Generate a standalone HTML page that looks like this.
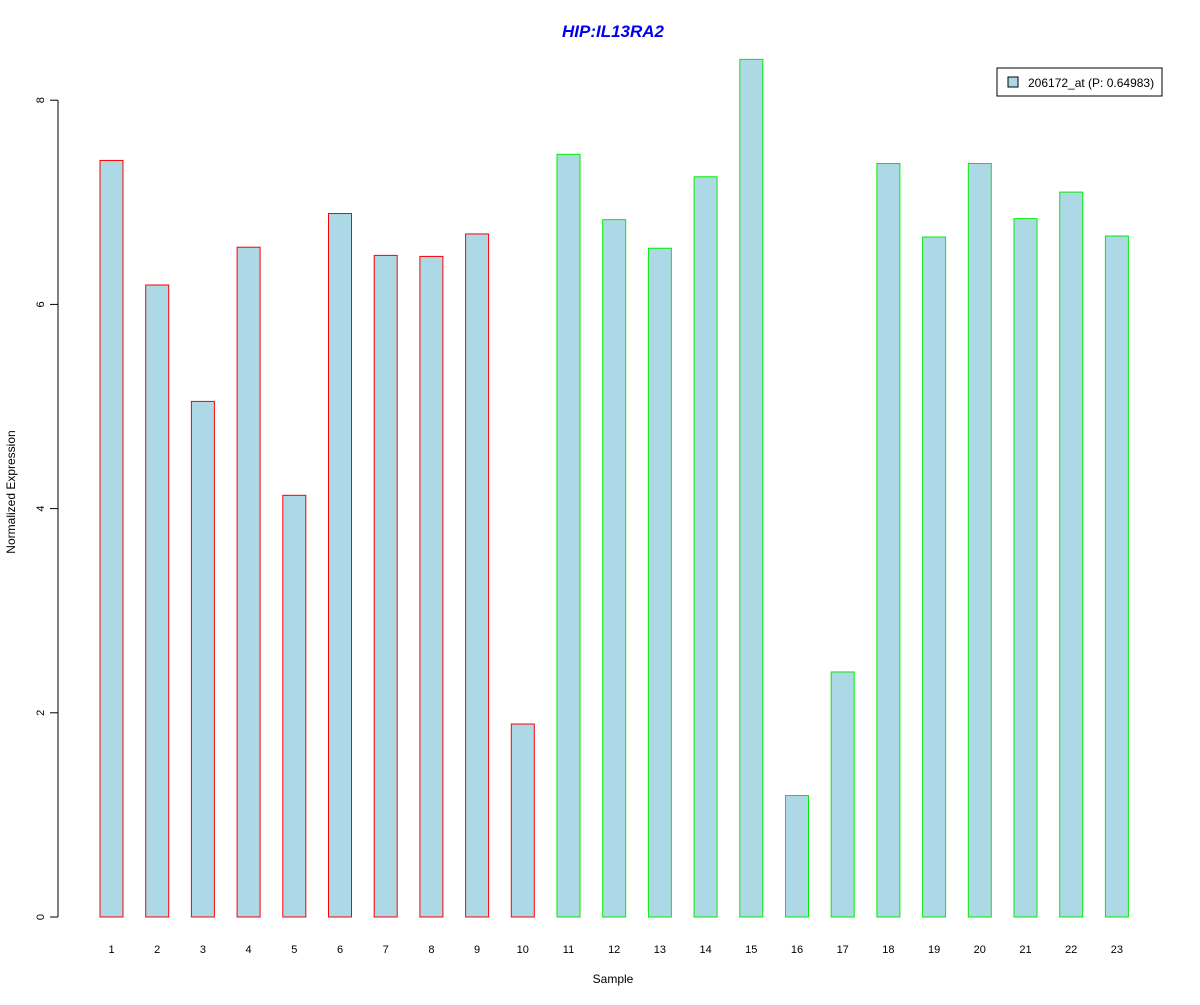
<!DOCTYPE html>
<html><head><meta charset="utf-8"><style>
html,body{margin:0;padding:0;background:#fff;}
svg text{font-family:"Liberation Sans",Arial,sans-serif;}
</style></head><body>
<svg id="chart" width="1200" height="1000" xmlns="http://www.w3.org/2000/svg">
<rect x="0" y="0" width="1200" height="1000" fill="#fff"/>
<text x="613" y="37" text-anchor="middle" font-size="17" font-weight="bold" font-style="italic" fill="#0000ee">HIP:IL13RA2</text>
<text x="613" y="983" text-anchor="middle" font-size="12">Sample</text>
<text transform="translate(15,492) rotate(-90)" text-anchor="middle" font-size="12">Normalized Expression</text>
<g id="yaxis"></g>
<g id="bars"></g>
<g id="xlabels"></g>
<g>
<rect x="997" y="68" width="165" height="28" fill="#fff" stroke="#000" stroke-width="1"/>
<rect x="1008" y="77" width="10" height="10" fill="#add8e6" stroke="#000" stroke-width="1"/>
<text x="1028" y="87" font-size="12">206172_at (P: 0.64983)</text>
</g>
</svg>
<script>
const categories = ["1","2","3","4","5","6","7","8","9","10","11","12","13","14","15","16","17","18","19","20","21","22","23"];
const values = [7.41,6.19,5.05,6.56,4.13,6.89,6.48,6.47,6.69,1.89,7.47,6.83,6.55,7.25,8.40,1.19,2.40,7.38,6.66,7.38,6.84,7.10,6.67];
const groups = ["r","r","r","r","r","r","r","r","r","r","g","g","g","g","g","g","g","g","g","g","g","g","g"];
const yTicks = [0,2,4,6,8];
const NS="http://www.w3.org/2000/svg";
const y0=917, pxPerUnit=102.1;
function yScale(v){return y0 - v*pxPerUnit;}
function xScale(i){return 111.5 + i*45.7;}
function mk(tag,attrs,parent){const e=document.createElementNS(NS,tag);for(const k in attrs)e.setAttribute(k,attrs[k]);parent.appendChild(e);return e;}
const ya=document.getElementById('yaxis');
mk('line',{x1:58,x2:58,y1:yScale(yTicks[0]),y2:yScale(yTicks[yTicks.length-1]),stroke:'#000'},ya);
yTicks.forEach(t=>{
  const y=yScale(t);
  mk('line',{x1:50,x2:58,y1:y,y2:y,stroke:'#000'},ya);
  const tx=mk('text',{transform:`translate(44,${y}) rotate(-90)`,'text-anchor':'middle','font-size':11},ya);
  
  
  tx.textContent=t;
});
const bg=document.getElementById('bars'), xl=document.getElementById('xlabels');
values.forEach((v,i)=>{
  const cx=xScale(i), top=yScale(v);
  const r=mk('rect',{x:cx-11.5,y:top,width:23,height:y0-top,fill:'#add8e6',stroke:groups[i]==='r'?'#ff0000':'#00ee00','stroke-width':1},bg);
  
  
  const t=mk('text',{x:cx,y:953,'text-anchor':'middle','font-size':11},xl);
  
  
  t.textContent=categories[i];
});
</script>
</body></html>
